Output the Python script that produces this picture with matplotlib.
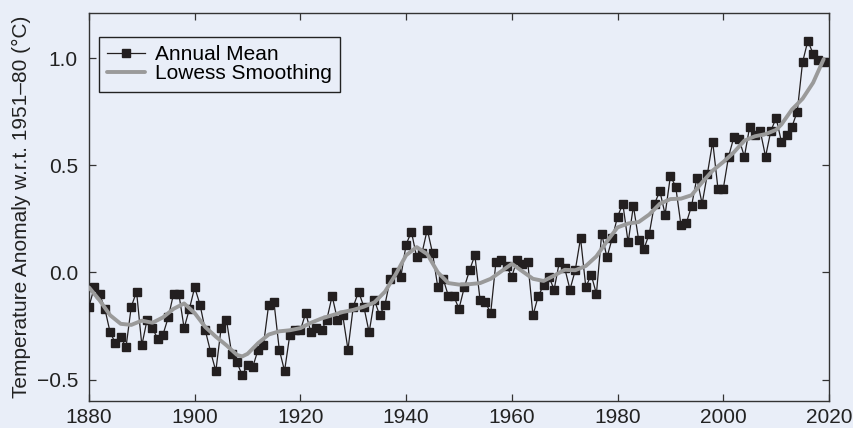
import matplotlib
matplotlib.use("Agg")
import matplotlib.pyplot as plt
import numpy as np

# Global annual mean surface temperature anomaly, relative to 1951-80 (°C)
years = list(range(1880, 2020))
annual_mean = [
    -0.16, -0.07, -0.10, -0.17, -0.28, -0.33, -0.30, -0.35, -0.16, -0.09,  # 1880s
    -0.34, -0.22, -0.26, -0.31, -0.29, -0.21, -0.10, -0.10, -0.26, -0.17,  # 1890s
    -0.07, -0.15, -0.27, -0.37, -0.46, -0.26, -0.22, -0.38, -0.42, -0.48,  # 1900s
    -0.43, -0.44, -0.36, -0.34, -0.15, -0.14, -0.36, -0.46, -0.29, -0.27,  # 1910s
    -0.27, -0.19, -0.28, -0.26, -0.27, -0.22, -0.11, -0.22, -0.20, -0.36,  # 1920s
    -0.16, -0.09, -0.16, -0.28, -0.13, -0.20, -0.15, -0.03, 0.00, -0.02,   # 1930s
    0.13, 0.19, 0.07, 0.09, 0.20, 0.09, -0.07, -0.03, -0.11, -0.11,        # 1940s
    -0.17, -0.07, 0.01, 0.08, -0.13, -0.14, -0.19, 0.05, 0.06, 0.03,       # 1950s
    -0.02, 0.06, 0.04, 0.05, -0.20, -0.11, -0.06, -0.02, -0.08, 0.05,      # 1960s
    0.02, -0.08, 0.01, 0.16, -0.07, -0.01, -0.10, 0.18, 0.07, 0.16,        # 1970s
    0.26, 0.32, 0.14, 0.31, 0.15, 0.11, 0.18, 0.32, 0.38, 0.27,            # 1980s
    0.45, 0.40, 0.22, 0.23, 0.31, 0.44, 0.32, 0.46, 0.61, 0.39,            # 1990s
    0.39, 0.54, 0.63, 0.62, 0.54, 0.68, 0.64, 0.66, 0.54, 0.66,            # 2000s
    0.72, 0.61, 0.64, 0.68, 0.75, 0.98, 1.08, 1.02, 0.99, 0.98,            # 2010s
]

# Lowess-smoothed curve
smooth_years = [
    1880, 1882, 1884, 1886, 1888, 1890, 1892, 1894, 1896, 1898,
    1900, 1902, 1904, 1906, 1908, 1909, 1910, 1912, 1914, 1916,
    1918, 1920, 1922, 1924, 1926, 1928, 1930, 1932, 1934, 1936,
    1938, 1940, 1942, 1944, 1946, 1948, 1950, 1952, 1954, 1956,
    1958, 1960, 1962, 1964, 1966, 1968, 1970, 1972, 1974, 1976,
    1978, 1980, 1982, 1984, 1986, 1988, 1990, 1992, 1994, 1996,
    1998, 2000, 2002, 2004, 2006, 2008, 2010, 2011, 2013, 2015,
    2017, 2019,
]
smooth_values = [
    -0.07, -0.13, -0.20, -0.24, -0.245, -0.225, -0.235, -0.21, -0.17, -0.145,
    -0.19, -0.255, -0.30, -0.34, -0.385, -0.392, -0.38, -0.33, -0.29, -0.275,
    -0.27, -0.26, -0.235, -0.215, -0.20, -0.185, -0.175, -0.16, -0.14, -0.09,
    -0.01, 0.08, 0.118, 0.085, 0.00, -0.05, -0.057, -0.055, -0.05, -0.03,
    0.005, 0.04, 0.005, -0.03, -0.04, -0.015, 0.012, 0.01, 0.03, 0.075,
    0.145, 0.21, 0.228, 0.235, 0.27, 0.32, 0.342, 0.344, 0.36, 0.42,
    0.475, 0.515, 0.56, 0.615, 0.635, 0.645, 0.665, 0.69, 0.76, 0.81,
    0.885, 0.995,
]

x_ticks = [1880, 1900, 1920, 1940, 1960, 1980, 2000, 2020]
y_ticks = [-0.5, 0.0, 0.5, 1.0]
y_tick_labels = ["\u22120.5", "0.0", "0.5", "1.0"]

bg = "#e9eef8"
plt.rcParams["font.family"] = ["Liberation Sans", "DejaVu Sans"]

fig = plt.figure(figsize=(8.54, 4.28), dpi=100, facecolor=bg)
ax = fig.add_axes([0.1042, 0.0631, 0.8665, 0.9065], facecolor=bg)

ax.plot(years, annual_mean, color="#231f20", lw=0.9, marker="s",
        markersize=5.5, markerfacecolor="#231f20", markeredgecolor="#231f20",
        label="Annual Mean", zorder=3)
ax.plot(smooth_years, smooth_values, color="#9a9a9a", lw=2.8,
        solid_capstyle="round", solid_joinstyle="round",
        label="Lowess Smoothing", zorder=4)

ax.set_xlim(1880, 2020)
ax.set_ylim(-0.6, 1.21)
ax.set_xticks(x_ticks)
ax.set_yticks(y_ticks)
ax.set_yticklabels(y_tick_labels)
ax.tick_params(direction="in", length=5, width=0.9, labelsize=15,
               top=True, right=True, colors="#333333", labelcolor="#222222")
ax.tick_params(axis="x", pad=5)
ax.tick_params(axis="y", pad=8)
for s in ax.spines.values():
    s.set_color("#333333")
    s.set_linewidth(1.0)

ax.set_ylabel("Temperature Anomaly w.r.t. 1951\u201380 (\u00b0C)", fontsize=15,
              color="#222222", labelpad=4)

leg = ax.legend(loc="upper left", bbox_to_anchor=(0.0135, 0.938),
                borderaxespad=0, fontsize=15, frameon=True, fancybox=False,
                facecolor=bg, edgecolor="#222222", framealpha=1,
                handlelength=1.8, handletextpad=0.5, labelspacing=0.0,
                borderpad=0.4)
leg.get_frame().set_linewidth(1.0)

fig.savefig("out.png", dpi=100, facecolor=bg)
